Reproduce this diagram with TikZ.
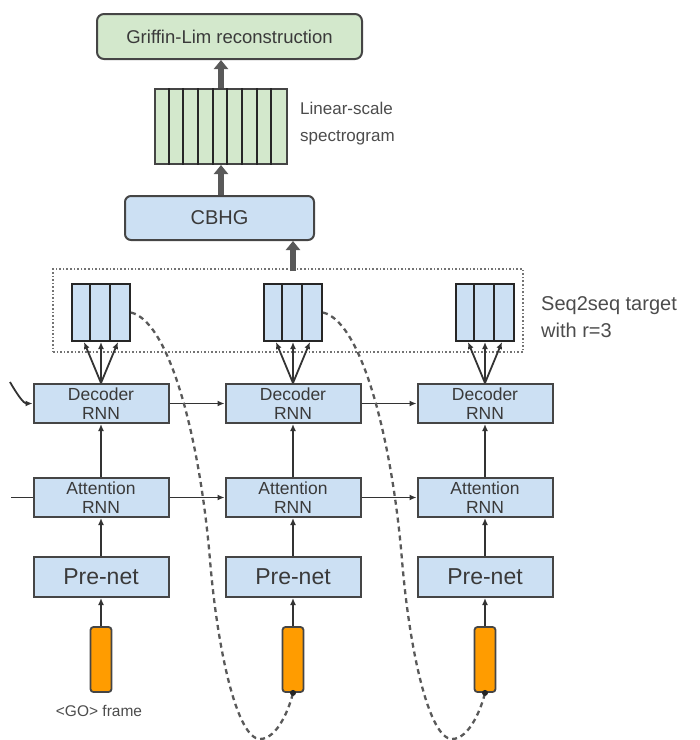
\documentclass[tikz,border=0pt]{standalone}
\usepackage{fontspec}
\setmainfont{Liberation Sans}
\usepackage{xcolor}
\usepackage{tikz}
\usetikzlibrary{arrows.meta, positioning, calc}
\definecolor{grfill}{HTML}{D3E8CC}
\definecolor{blfill}{HTML}{CCE0F3}
\definecolor{orfill}{HTML}{FF9C00}
\definecolor{edgec}{HTML}{454545}
\definecolor{txtc}{HTML}{3A3A3A}

\begin{document}
\begin{tikzpicture}[
    x=1pt, y=-1pt,
    every node/.style={text=txtc, inner sep=0pt},
    greenbox/.style={draw=edgec, fill=grfill, line width=2pt, rounded corners=7pt},
    cbhgbox/.style={draw=edgec, fill=blfill, line width=2pt, rounded corners=6pt, minimum width=189pt, minimum height=44pt, font=\fontsize{20}{22}\selectfont},
    rnnbox/.style={draw=edgec, fill=blfill, line width=2pt, minimum width=135pt, minimum height=39pt, align=center, font=\fontsize{17.5}{19}\selectfont},
    prenet/.style={rnnbox, minimum height=40pt, font=\fontsize{23}{25}\selectfont},
    framegrp/.style={draw=black!85, fill=blfill, line width=2pt, minimum width=58pt, minimum height=57pt},
    goframe/.style={draw=edgec, fill=orfill, line width=1.8pt, rounded corners=3pt, minimum width=21pt, minimum height=65pt},
    arr/.style={-{Latex[length=7pt,width=6pt]}, line width=1.8pt, draw=black!80},
    bigarr/.style={-{Triangle[length=9pt,width=14pt]}, line width=6pt, draw=black!65},
    feedback/.style={dash pattern=on 5pt off 4pt, line width=2.3pt, draw=black!65},
    label/.style={anchor=west, align=left, text=black!70}
]
    \useasboundingbox (0,0) rectangle (700,740);

    \node[greenbox, minimum width=265pt, minimum height=45pt, font=\fontsize{18.5}{20}\selectfont]
        (griffin) at (229.5,36.5) {Griffin-Lim reconstruction};
    \node[greenbox, rounded corners=0pt, minimum width=132pt, minimum height=75pt] (spec) at (221,126.5) {};
    \foreach \k in {1,...,8}
        \draw[line width=2pt, black!85] ([xshift=\k*14.67pt]spec.north west) -- ([xshift=\k*14.67pt]spec.south west);
    \node[label, font=\fontsize{17}{27}\selectfont] (speclabel) at (300,124) {Linear-scale\\spectrogram};
    \node[cbhgbox] (cbhg) at (219.5,218) {CBHG};

    \node[draw=black!55, dotted, line width=1.6pt, minimum width=470pt, minimum height=83pt] (target) at (288,310.5) {};
    \node[label, font=\fontsize{20}{27}\selectfont] (targetlabel) at (541,317) {Seq2seq target\\with r=3};

    \foreach \i/\x in {1/101, 2/293, 3/485} {
        \node[framegrp] (fr\i) at (\x,312.5) {};
        \foreach \k in {1,2}
            \draw[line width=2pt, black!85] ([xshift=\k*19.33pt]fr\i.north west) -- ([xshift=\k*19.33pt]fr\i.south west);
        \node[rnnbox] (dec\i) at (\x,403.5) {Decoder\\RNN};
        \node[rnnbox] (att\i) at (\x,497.5) {Attention\\RNN};
        \node[prenet] (pre\i) at (\x,577) {Pre-net};
        \node[goframe] (go\i) at (\x,659.5) {};
        \foreach \d in {-17,0,17}
            \draw[arr] (dec\i.north) -- ([xshift=\d pt]fr\i.south);
        \draw[arr] (att\i) -- (dec\i);
        \draw[arr] (pre\i) -- (att\i);
        \draw[arr] (go\i) -- (pre\i);
    }
    \node[font=\fontsize{15.5}{17}\selectfont, text=black!70] (golabel) at (99,711) {\textless GO\textgreater{} frame};

    \draw[bigarr] (spec.north) -- (spec.north |- griffin.south);
    \draw[bigarr] (spec.south |- cbhg.north) -- (spec.south);
    \draw[bigarr] (fr2.north |- target.north) ++(0,3) -- (fr2.north |- cbhg.south);

    \draw[arr] (dec1) -- (dec2);
    \draw[arr] (dec2) -- (dec3);
    \draw[arr] (att1) -- (att2);
    \draw[arr] (att2) -- (att3);

    \coordinate (decin) at (10,382);
    \coordinate (attin) at (11,497.5);
    \draw[arr] (decin) .. controls (18,396) and (24,403.5) .. (dec1.west);
    \draw[line width=1.8pt, black!80] (attin) -- (att1.west);

    \foreach \i/\j/\s in {1/2/0, 2/3/192} {
        \draw[feedback] (fr\i.east) .. controls (170+\s,322) and (200+\s,440) .. (210+\s,560)
            .. controls (218+\s,656) and (238+\s,739) .. (260+\s,739)
            .. controls (278+\s,739) and (290+\s,706) .. (go\j.south);
        \fill[black!85] (go\j.south) circle (3pt);
    }
\end{tikzpicture}
\end{document}
